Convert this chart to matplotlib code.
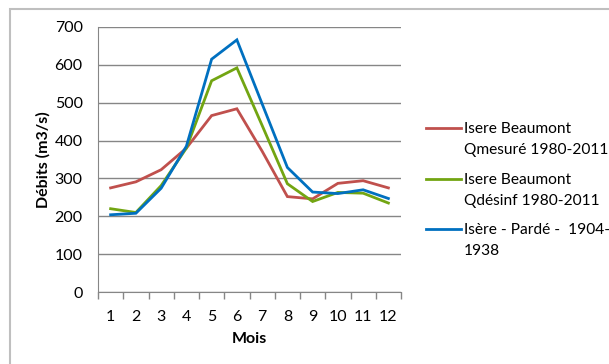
import matplotlib
matplotlib.use("Agg")
import matplotlib.pyplot as plt
from matplotlib.lines import Line2D
from matplotlib.patches import Rectangle

# Données mensuelles (m3/s)
mois = [1, 2, 3, 4, 5, 6, 7, 8, 9, 10, 11, 12]
q_mesure = [275, 291, 323, 380, 466, 484, 372, 252, 246, 287, 294, 275]
q_desinf = [220, 210, 281, 380, 558, 592, 440, 286, 239, 263, 261, 235]
q_parde = [204, 208, 274, 385, 615, 666, 497, 329, 264, 260, 270, 247]

series = [
    (q_mesure, "#C0504D", "Isere Beaumont\nQmesuré 1980-2011"),
    (q_desinf, "#72A512", "Isere Beaumont\nQdésinf 1980-2011"),
    (q_parde, "#0070C0", "Isère - Pardé -  1904-\n1938"),
]

plt.rcParams['font.family'] = ['Lato', 'DejaVu Sans']

fig = plt.figure(figsize=(6.09, 3.64), dpi=100)

# cadre du graphique
fig.patches.append(Rectangle((10 / 609, -0.1), 1.0, 1 - 9 / 364 + 0.1,
                             transform=fig.transFigure, fill=False,
                             edgecolor="#BFBFBF", lw=1.5))

ax = fig.add_axes([98 / 609, 1 - 292 / 364, 303 / 609, 265 / 364])

for valeurs, couleur, nom in series:
    ax.plot(mois, valeurs, color=couleur, lw=2.0, solid_joinstyle="miter")

ax.set_xlim(0.5, 12.5)
ax.set_ylim(0, 700)
ax.set_yticks(range(0, 701, 100))
ax.set_xticks(mois)
ax.set_xticks([m + 0.5 for m in [0] + mois], minor=True)
ax.tick_params(axis="x", which="major", length=0, pad=13, labelsize=11.5)
ax.tick_params(axis="x", which="minor", length=5, color="#868686", width=1)
ax.tick_params(axis="y", length=0, pad=11, labelsize=11.5)
ax.yaxis.grid(True, color="#868686", lw=1)
ax.set_axisbelow(True)

for side in ["top", "right"]:
    ax.spines[side].set_visible(False)
for side in ["left", "bottom"]:
    ax.spines[side].set_color("#868686")

ax.set_xlabel("Mois", fontweight="bold", fontsize=11.5)
ax.set_ylabel("Débits (m3/s)", fontweight="bold", fontsize=11.5)
ax.xaxis.set_label_coords(0.5, (292 - 339) / 265)
ax.yaxis.set_label_coords((43 - 98) / 303, 0.5)
ax.xaxis.label.set_va("center")
ax.yaxis.label.set_va("center")

# légende
y_leg = [128, 179, 229]
for (valeurs, couleur, nom), y in zip(series, y_leg):
    yf = 1 - y / 364
    fig.add_artist(Line2D([426 / 609, 461 / 609], [yf, yf], color=couleur,
                          lw=2.0, transform=fig.transFigure))
    fig.text(464 / 609, yf + 6 / 364, nom, fontsize=11.2, va="top",
             ha="left", linespacing=1.65)

fig.savefig("out.png", dpi=100)
